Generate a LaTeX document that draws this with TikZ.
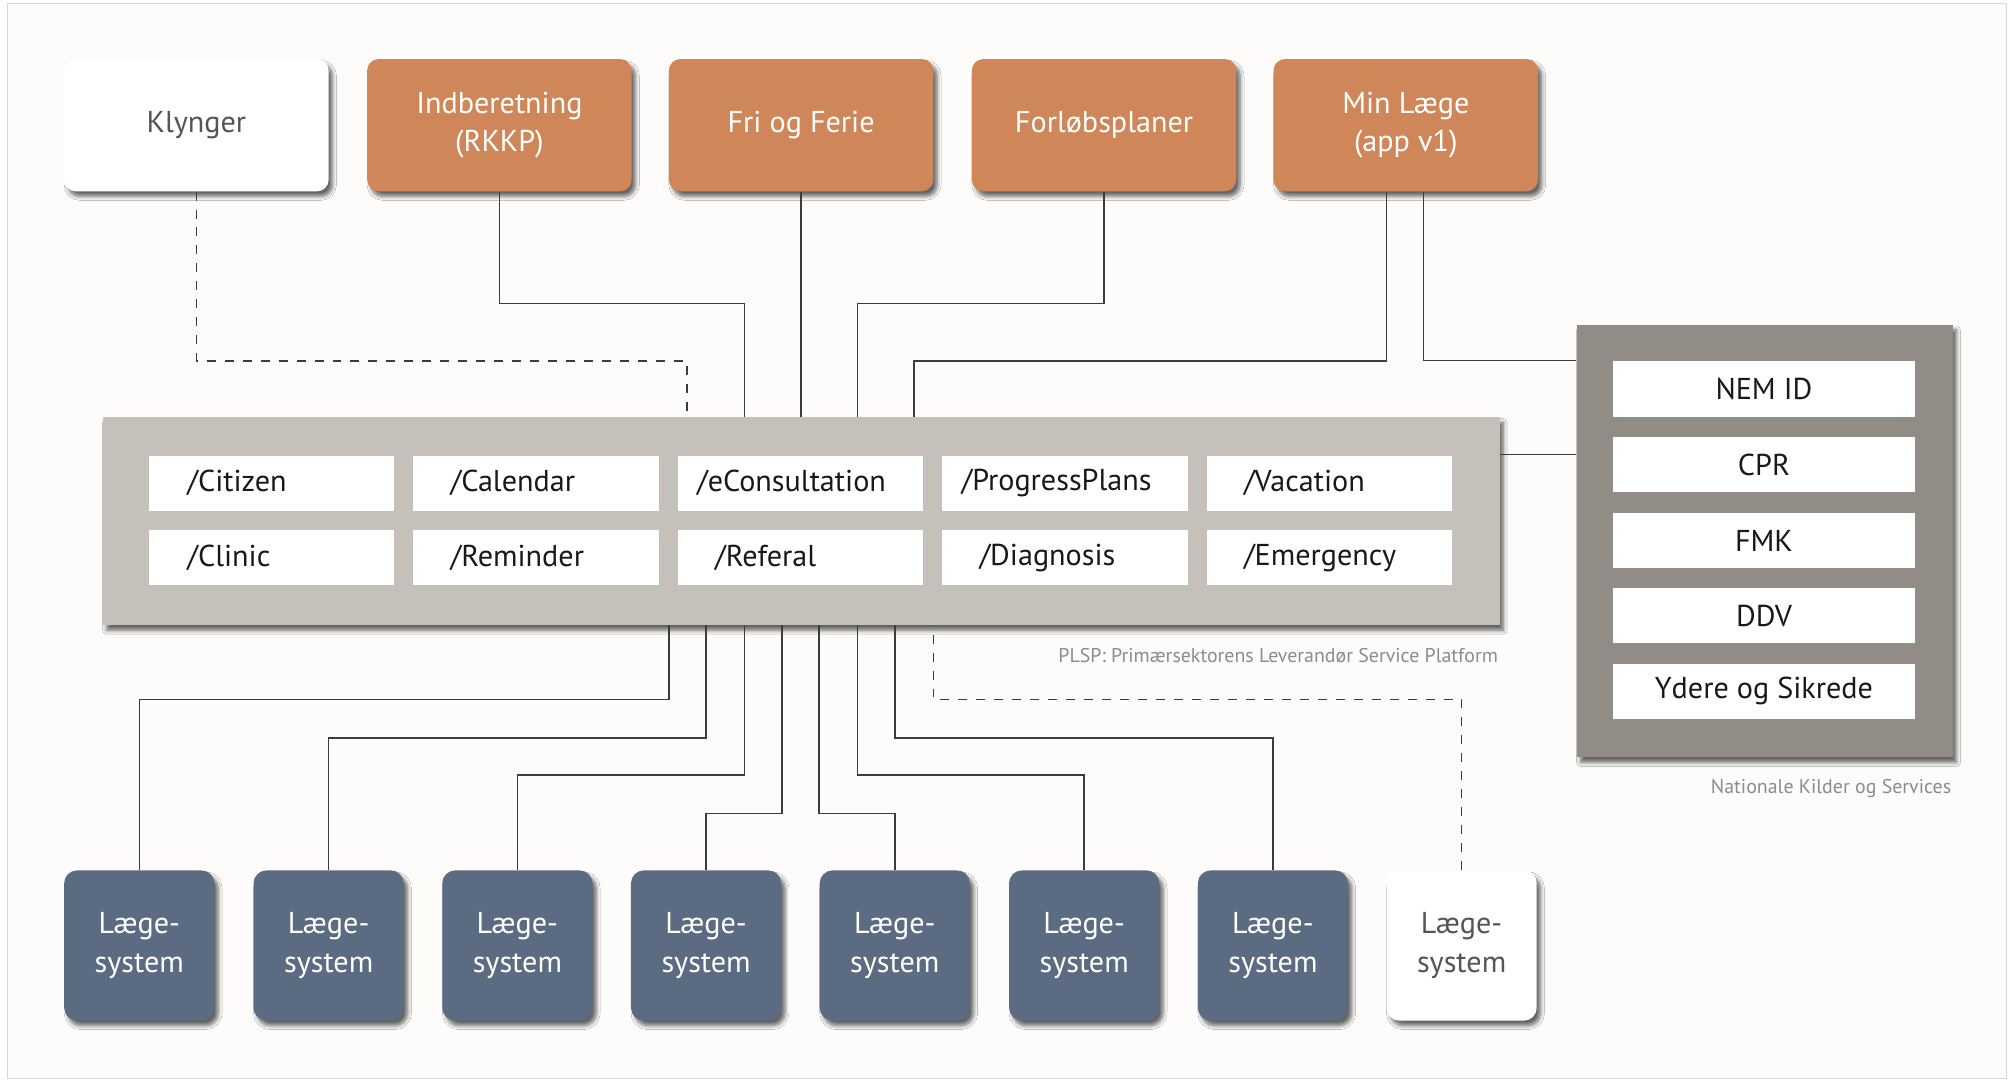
\documentclass[tikz,border=0pt]{standalone}
\usepackage{fontspec}
\setmainfont{PT Sans}
\usetikzlibrary{shadows,shadows.blur,calc}
\definecolor{orng}{HTML}{CF8658}
\definecolor{slate}{HTML}{5A6B82}
\definecolor{plspgray}{HTML}{C6C0BA}
\definecolor{natgray}{HTML}{918C86}
\definecolor{linec}{HTML}{3C3C3C}
\definecolor{capgray}{HTML}{8C8C8C}
\definecolor{txtgray}{HTML}{555555}
\definecolor{bgc}{HTML}{FDFCFB}
\definecolor{framec}{HTML}{D9D7D5}
\begin{document}
\begin{tikzpicture}[x=1pt,y=-1pt,
  shad/.style={blur shadow={shadow xshift=3pt,shadow yshift=-4pt,shadow blur radius=3pt,shadow blur steps=6,shadow opacity=60}},
  mainfont/.style={font=\fontsize{23.5}{30}\selectfont},
  topbox/.style={rounded corners=9pt, minimum width=206pt, minimum height=103pt, align=center, mainfont, text=white, fill=orng, shad, inner sep=0pt},
  whitetop/.style={topbox, fill=white, text=txtgray},
  lgbox/.style={rounded corners=10pt, minimum width=117pt, minimum height=117pt, align=center, mainfont, text=white, fill=slate, shad, inner sep=0pt},
  whitelg/.style={lgbox, fill=white, text=txtgray},
  platform/.style={minimum width=1088pt, minimum height=162pt, fill=plspgray, shad, inner sep=0pt},
  natbox/.style={minimum width=293pt, minimum height=337pt, fill=natgray, shad, inner sep=0pt},
  ep/.style={minimum height=43pt, text width=161pt, inner xsep=15pt, inner ysep=0pt, align=left, fill=white, mainfont, text=black!90},
  natep/.style={minimum height=43pt, minimum width=235pt, inner sep=0pt, align=center, fill=white, mainfont, text=black!90},
  caption/.style={anchor=east, font=\fontsize{15.5}{18}\selectfont, text=capgray, inner sep=0pt},
  conn/.style={draw=linec, line width=1.1pt},
  dconn/.style={draw=linec, line width=1.1pt, dash pattern=on 7pt off 7pt}
]
\useasboundingbox (0,0) rectangle (1568,842);
\draw[framec, fill=bgc, line width=1pt] (6,3) rectangle (1563,840);

% top boxes
\node[whitetop] (kly) at (153,97.5) {Klynger};
\node[topbox] (ind) at (389,97.5) {Indberetning\\(RKKP)};
\node[topbox] (fri) at (624,97.5) {Fri og Ferie};
\node[topbox] (forl) at (860,97.5) {Forløbsplaner};
\node[topbox] (minl) at (1095,97.5) {Min Læge\\(app v1)};

% platform
\node[platform] (plsp) at (624,406) {};
\node[ep] (e11) at (211.5,376.5) {\hspace*{15pt}/Citizen};
\node[ep] (e12) at (417.5,376.5) {\hspace*{14pt}/Calendar};
\node[ep] (e13) at (623.5,376.5) {/eConsultation};
\node[ep] (e14) at (829.5,376.5) {/ProgressPlans};
\node[ep] (e15) at (1035.5,376.5) {\hspace*{14pt}/Vacation};
\node[ep] (e21) at (211.5,434.5) {\hspace*{15pt}/Clinic};
\node[ep] (e22) at (417.5,434.5) {\hspace*{14pt}/Reminder};
\node[ep] (e23) at (623.5,434.5) {\hspace*{14pt}/Referal};
\node[ep] (e24) at (829.5,434.5) {\hspace*{14pt}/Diagnosis};
\node[ep] (e25) at (1035.5,434.5) {\hspace*{14pt}/Emergency};
\node[caption] (plspcap) at (1167,511) {PLSP: Primærsektorens Leverandør Service Platform};

% national
\node[natbox] (nat) at (1374.5,421.5) {};
\node[natep] (n1) at (1374,303) {NEM ID};
\node[natep] (n2) at (1374,362) {CPR};
\node[natep] (n3) at (1374,421) {FMK};
\node[natep] (n4) at (1374,479.5) {DDV};
\node[natep] (n5) at (1374,538.5) {Ydere og Sikrede};
\node[caption] (natcap) at (1520,614) {Nationale Kilder og Services};

% bottom boxes
\node[lgbox] (lg1) at (108.5,736.5) {Læge-\\system};
\node[lgbox] (lg2) at (256,736.5) {Læge-\\system};
\node[lgbox] (lg3) at (403,736.5) {Læge-\\system};
\node[lgbox] (lg4) at (550,736.5) {Læge-\\system};
\node[lgbox] (lg5) at (697,736.5) {Læge-\\system};
\node[lgbox] (lg6) at (844.5,736.5) {Læge-\\system};
\node[lgbox] (lg7) at (991.5,736.5) {Læge-\\system};
\node[whitelg] (lg8) at (1138.5,736.5) {Læge-\\system};

% helper coordinates
\coordinate (tK) at (535,0);
\coordinate (tI) at (580,0);
\coordinate (tF) at (668,0);
\coordinate (tM) at (712,0);
\coordinate (b1) at (521,0);
\coordinate (b2) at (550,0);
\coordinate (b3) at (580,0);
\coordinate (b4) at (609,0);
\coordinate (b5) at (638,0);
\coordinate (b6) at (668,0);
\coordinate (b7) at (697,0);
\coordinate (bd) at (727,0);
\coordinate (pe) at ([yshift=52pt]plsp.east);

% top connectors
\draw[dconn] (kly.south) -- ++(0,132) -| (plsp.north -| tK);
\draw[conn] (ind.south) -- ++(0,87) -| (plsp.north -| tI);
\draw[conn] (fri.south) -- (plsp.north -| fri.south);
\draw[conn] (forl.south) -- ++(0,87) -| (plsp.north -| tF);
\draw[conn] ([xshift=-15pt]minl.south) -- ++(0,132) -| (plsp.north -| tM);
\draw[conn] ([xshift=14pt]minl.south) |- ([yshift=-28pt]nat.north west);
\draw[conn] (pe) -- (pe -| nat.west);

% bottom connectors
\draw[conn] (lg1.north) -- ++(0,-133) -| (plsp.south -| b1);
\draw[conn] (lg2.north) -- ++(0,-103) -| (plsp.south -| b2);
\draw[conn] (lg3.north) -- ++(0,-74) -| (plsp.south -| b3);
\draw[conn] (lg4.north) -- ++(0,-44) -| (plsp.south -| b4);
\draw[conn] (lg5.north) -- ++(0,-44) -| (plsp.south -| b5);
\draw[conn] (lg6.north) -- ++(0,-74) -| (plsp.south -| b6);
\draw[conn] (lg7.north) -- ++(0,-103) -| (plsp.south -| b7);
\draw[dconn] (lg8.north) -- ++(0,-133) -| (plsp.south -| bd);
\end{tikzpicture}
\end{document}
